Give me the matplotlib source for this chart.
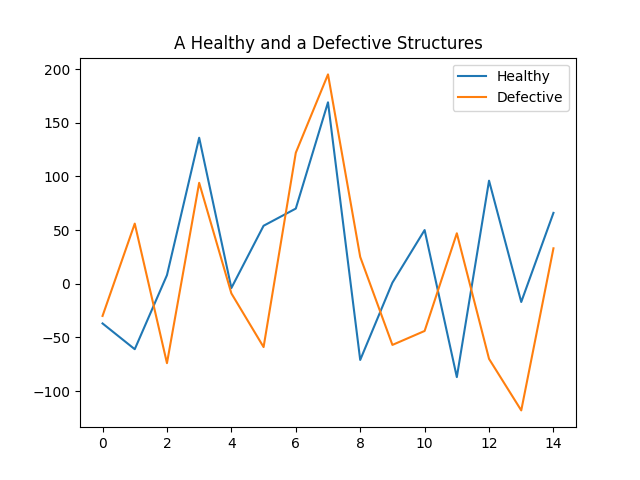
import matplotlib
matplotlib.use("Agg")
import matplotlib.pyplot as plt

x = list(range(15))
healthy = [-37, -61, 8, 136, -4, 54, 70, 169, -71, 1, 50, -87, 96, -17, 66]
defective = [-30, 56, -74, 94, -9, -59, 122, 195, 25, -57, -44, 47, -70, -118, 33]

fig, ax = plt.subplots(figsize=(6.4, 4.8), dpi=100)
ax.plot(x, healthy, label="Healthy")
ax.plot(x, defective, label="Defective")
ax.set_title("A Healthy and a Defective Structures")
ax.legend()
fig.savefig("out.png")
